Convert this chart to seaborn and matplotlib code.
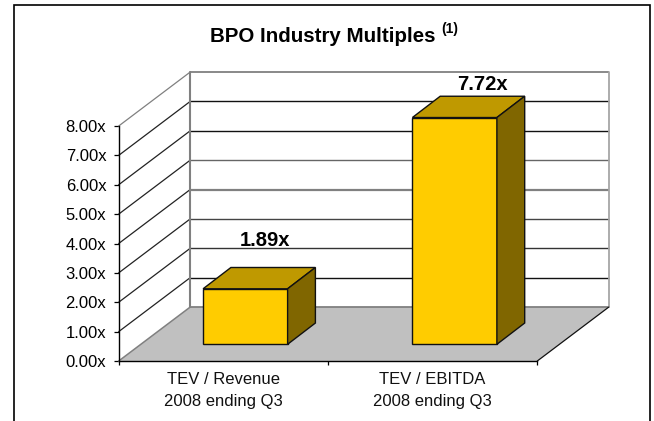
import matplotlib
matplotlib.use('Agg')
import matplotlib.pyplot as plt
import seaborn as sns
from matplotlib.patches import Polygon, Rectangle

categories = ['TEV / Revenue\n2008 ending Q3', 'TEV / EBITDA\n2008 ending Q3']
multiples = [1.89, 7.72]
value_labels = ['1.89x', '7.72x']
y_ticks = [0, 1, 2, 3, 4, 5, 6, 7, 8]
y_tick_labels = ['0.00x', '1.00x', '2.00x', '3.00x', '4.00x', '5.00x', '6.00x', '7.00x', '8.00x']

W, H = 654, 421

sns.set_style('white')
plt.rcParams['font.family'] = ['Liberation Sans', 'DejaVu Sans']
plt.rcParams['text.color'] = 'black'

fig = plt.figure(figsize=(W / 100, H / 100), dpi=100)


def box(x0, y0, x1, y1):
    # pixel box of the reference -> figure fractions
    return [x0 / W, 1 - y1 / H, (x1 - x0) / W, (y1 - y0) / H]


# outer chart border, open at the bottom of the crop
fig.add_artist(Rectangle((14 / W, -0.01), 636 / W, 1.01 - 4.7 / H, transform=fig.transFigure,
                         fill=False, edgecolor='black', linewidth=1.2))

# front plane of the 3D box
ax = fig.add_axes(box(118.7, 126, 537.3, 361))
ax.set_xlim(-0.5, 1.5)
ax.set_ylim(0, 8)
ax.patch.set_visible(False)

# depth of the box in data units
CAT_PX = (537.3 - 118.7) / 2
DX = 71.5 / CAT_PX
DY = 54 / 29.4

# floor
ax.add_patch(Polygon([(-0.5, 0), (1.5, 0), (1.5 + DX, DY), (-0.5 + DX, DY)], closed=True,
                     facecolor='#C0C0C0', edgecolor='none', clip_on=False, zorder=1))

# gridlines along the left wall and the back wall
grid_colors = ['#808080', '#111111', '#333333', '#444444', '#808080', '#666666', '#111111', '#111111', '#808080']
grid_widths = [1.3, 1, 1, 1, 1.6, 1, 1, 1, 1.3]
for v, c, lw in zip(y_ticks, grid_colors, grid_widths):
    if v > 0:
        left_c = '#808080' if v == 8 else '#222222'
        ax.plot([-0.5, -0.5 + DX], [v, v + DY], color=left_c, lw=0.9, clip_on=False, zorder=2)
    ax.plot([-0.5 + DX, 1.5 + DX], [v + DY, v + DY], color=c, lw=lw, clip_on=False, zorder=2,
            solid_capstyle='butt')

# wall edges
ax.plot([-0.5, -0.5 + DX], [0, DY], color='#808080', lw=1.1, clip_on=False, zorder=3)
ax.plot([-0.5 + DX, -0.5 + DX], [DY, 8 + DY], color='#808080', lw=1.5, clip_on=False, zorder=3)
ax.plot([1.5 + DX, 1.5 + DX], [DY, 8 + DY], color='#A6A6A6', lw=1.3, clip_on=False, zorder=3)
ax.plot([1.5, 1.5 + DX], [0, DY], color='#111111', lw=0.9, clip_on=False, zorder=3)

ax.set_yticks(y_ticks, y_tick_labels)
ax.set_xticks([-0.5, 0.5, 1.5], ['', '', ''])
ax.set_xticks([0, 1], categories, minor=True)
ax.tick_params(axis='y', which='major', left=True, length=3.4, width=0.9, color='black', pad=5.5,
               labelsize=12, labelcolor='black')
ax.tick_params(axis='x', which='major', bottom=True, length=3, width=0.9, color='black')
ax.tick_params(axis='x', which='minor', bottom=False, length=0, pad=8, labelsize=12, labelcolor='#111111')
for label in ax.get_xticklabels(minor=True):
    label.set_linespacing(1.55)
for name in ['top', 'right']:
    ax.spines[name].set_visible(False)
for name in ['left', 'bottom']:
    ax.spines[name].set_color('black')
    ax.spines[name].set_linewidth(1.0)
ax.spines['left'].set_zorder(4)

# bars stand on a plane further back in the box
bar_ax = fig.add_axes(box(118.7 + 22, 126 - 16.7, 537.3 + 22, 361 - 16.7))
bar_ax.patch.set_visible(False)
sns.barplot(x=categories, y=multiples, color='#FFCC00', saturation=1, width=84.5 / CAT_PX,
            edgecolor='#111111', linewidth=1.0, clip_on=False, ax=bar_ax)
bar_ax.set_xlim(-0.5, 1.5)
bar_ax.set_ylim(0, 8)
bar_ax.axis('off')

# top and side faces from each bar's own rectangle
bx = 27.8 / CAT_PX
by = 21.3 / 29.4
for bar in list(bar_ax.patches):
    x0, x1 = bar.get_x(), bar.get_x() + bar.get_width()
    top = bar.get_height()
    bar_ax.add_patch(Polygon([(x0, top), (x1, top), (x1 + bx, top + by), (x0 + bx, top + by)], closed=True,
                             facecolor='#BF9900', edgecolor='#111111', linewidth=1.0, clip_on=False))
    bar_ax.add_patch(Polygon([(x1, 0), (x1 + bx, by), (x1 + bx, top + by), (x1, top)], closed=True,
                             facecolor='#806600', edgecolor='#111111', linewidth=1.0, clip_on=False))

# value labels
fig.text(265 / W, 1 - 246.5 / H, value_labels[0], ha='center', va='baseline', fontsize=14.5, fontweight='bold')
fig.text(482 / W, 1 - 90.5 / H, value_labels[1], ha='center', va='baseline', fontsize=14.5, fontweight='bold')

# title with raised footnote mark
fig.text(322.5 / W, 1 - 41.7 / H, 'BPO Industry Multiples', ha='center', va='baseline', fontsize=14.8, fontweight='bold')
fig.text(441.7 / W, 1 - 33 / H, '(1)', ha='left', va='baseline', fontsize=10, fontweight='bold')

fig.savefig('out.png', dpi=100)
